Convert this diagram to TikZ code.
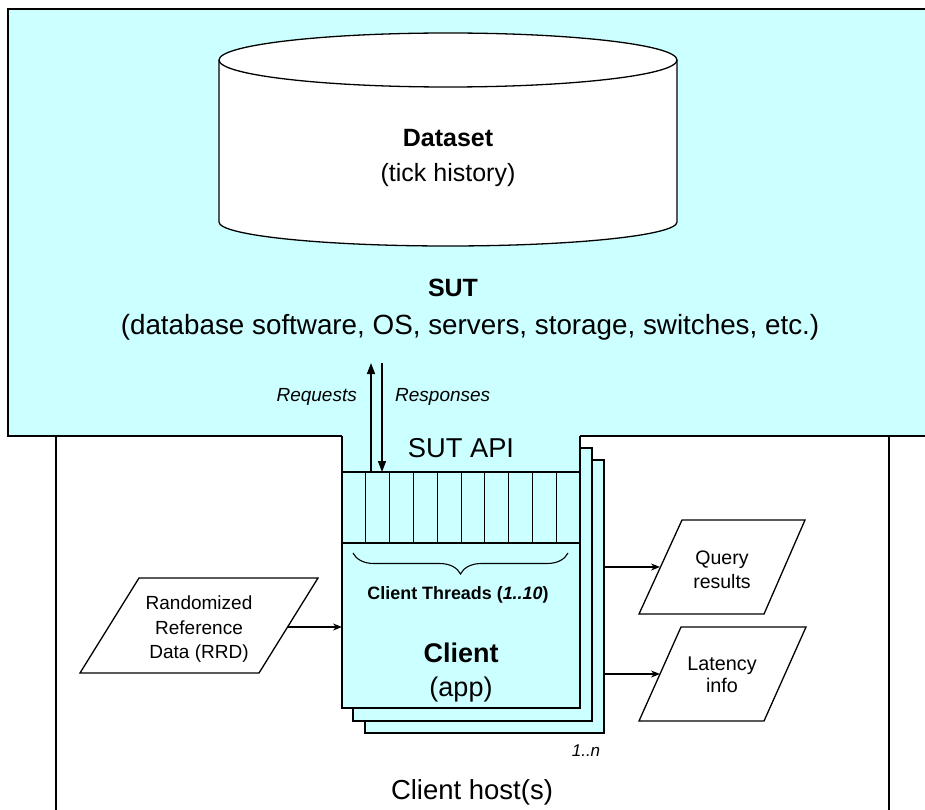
\documentclass[tikz,border=0pt]{standalone}
\usepackage{fontspec}
\setmainfont{Liberation Sans}
\usetikzlibrary{arrows.meta,decorations.pathreplacing}
\definecolor{sutblue}{HTML}{CCFFFF}
\tikzset{
  ln/.style={line width=1.3pt, line join=miter},
  pagebox/.style={ln, fill=sutblue, draw=black},
  para/.style={ln, fill=white, draw=black},
  bigarrow/.style={line width=1.5pt, -{Triangle[length=11pt,width=8pt]}},
  smallarrow/.style={line width=1.3pt, -{Stealth[length=9pt,width=7pt]}},
  txt/.style={inner sep=0pt, align=center},
}
\begin{document}
\begin{tikzpicture}[x=1pt,y=-1pt]
\useasboundingbox (0,0) rectangle (925,810);
\clip (0,0) rectangle (925,810);
% client host box
\draw[ln, fill=white] (56,436) rectangle (889,830);
% stacked client pages
\draw[pagebox] (365,460) rectangle (604,733);
\draw[pagebox] (353,448) rectangle (592,721);
% SUT region
\fill[sutblue] (8,9) rectangle (940,436);
\draw[ln] (342,436) -- (8,436) -- (8,9) -- (940,9) -- (940,436) -- (580,436);
% front client page
\fill[sutblue] (342,435) rectangle (580,708);
\draw[ln] (342,436) -- (342,708) -- (580,708) -- (580,436);
% thread cells
\draw[ln] (342,472) rectangle (580,543);
\foreach \i in {1,...,9} { \draw[line width=1pt] ({342+23.8*\i},472) -- ({342+23.8*\i},543); }
% dataset cylinder
\draw[ln, fill=white] (219,60) -- (219,222) arc[start angle=180, end angle=360, x radius=229, y radius=-24] -- (677,60) arc[start angle=0, end angle=180, x radius=229, y radius=-27] -- cycle;
\draw[ln] (219,60) arc[start angle=180, end angle=360, x radius=229, y radius=-27];
\node[txt, font=\fontsize{25}{35}\selectfont] (dataset) at (448,158) {\textbf{Dataset}\\(tick history)};
\node[txt, font=\fontsize{25}{30}\selectfont\bfseries] (sut) at (453,288) {SUT};
\node[txt, font=\fontsize{27.8}{30}\selectfont] (sutdesc) at (470,327) {(database software, OS, servers, storage, switches, etc.)};
\node[txt, font=\fontsize{27.3}{30}\selectfont] (api) at (461,448) {SUT API};
% request/response arrows
\coordinate (reqS) at (371,472); \coordinate (reqE) at (371,363);
\coordinate (resS) at (382,363); \coordinate (resE) at (382,472);
\draw[bigarrow] (reqS) -- (reqE);
\draw[bigarrow] (resS) -- (resE);
\node[txt, anchor=east, font=\fontsize{19}{22}\selectfont\itshape] (req) at (357,397) {Requests};
\node[txt, anchor=west, font=\fontsize{19}{22}\selectfont\itshape] (res) at (395,397) {Responses};
% brace
\coordinate (brL) at (353,553); \coordinate (brR) at (568,553);
\draw[line width=1.1pt, decorate, decoration={brace, mirror, amplitude=21pt}] (brL) -- (brR);
\node[txt, font=\fontsize{17.9}{20}\selectfont\bfseries] (threads) at (458,595) {Client Threads (\textit{1..10})};
\node[txt, font=\fontsize{27}{34}\selectfont] (client) at (461,673) {\textbf{Client}\\(app)};
\node[txt, font=\fontsize{17}{20}\selectfont\itshape] (n) at (586,751) {1..n};
\node[txt, font=\fontsize{27.5}{30}\selectfont] (host) at (472,792) {Client host(s)};
% RRD
\draw[para] (139,578) -- (318,578) -- (259,673) -- (80,673) -- cycle;
\node[txt, font=\fontsize{19}{24.5}\selectfont] (rrd) at (199,629.5) {Randomized\\Reference\\Data (RRD)};
\coordinate (rrdR) at (288,627); \coordinate (cliL) at (342,627);
\draw[smallarrow] (rrdR) -- (cliL);
% Query results
\draw[para] (682,520) -- (805,520) -- (764,614) -- (639,614) -- cycle;
\node[txt, font=\fontsize{19.5}{24}\selectfont] (query) at (722,569.5) {Query\\results};
\coordinate (qS) at (604,567); \coordinate (qE) at (660,567);
\draw[smallarrow] (qS) -- (qE);
% Latency info
\draw[para] (681,627) -- (806,627) -- (764,721) -- (639,721) -- cycle;
\node[txt, font=\fontsize{19.8}{22}\selectfont] (lat) at (722,675) {Latency\\info};
\coordinate (lS) at (604,674); \coordinate (lE) at (660,674);
\draw[smallarrow] (lS) -- (lE);
\end{tikzpicture}
\end{document}
